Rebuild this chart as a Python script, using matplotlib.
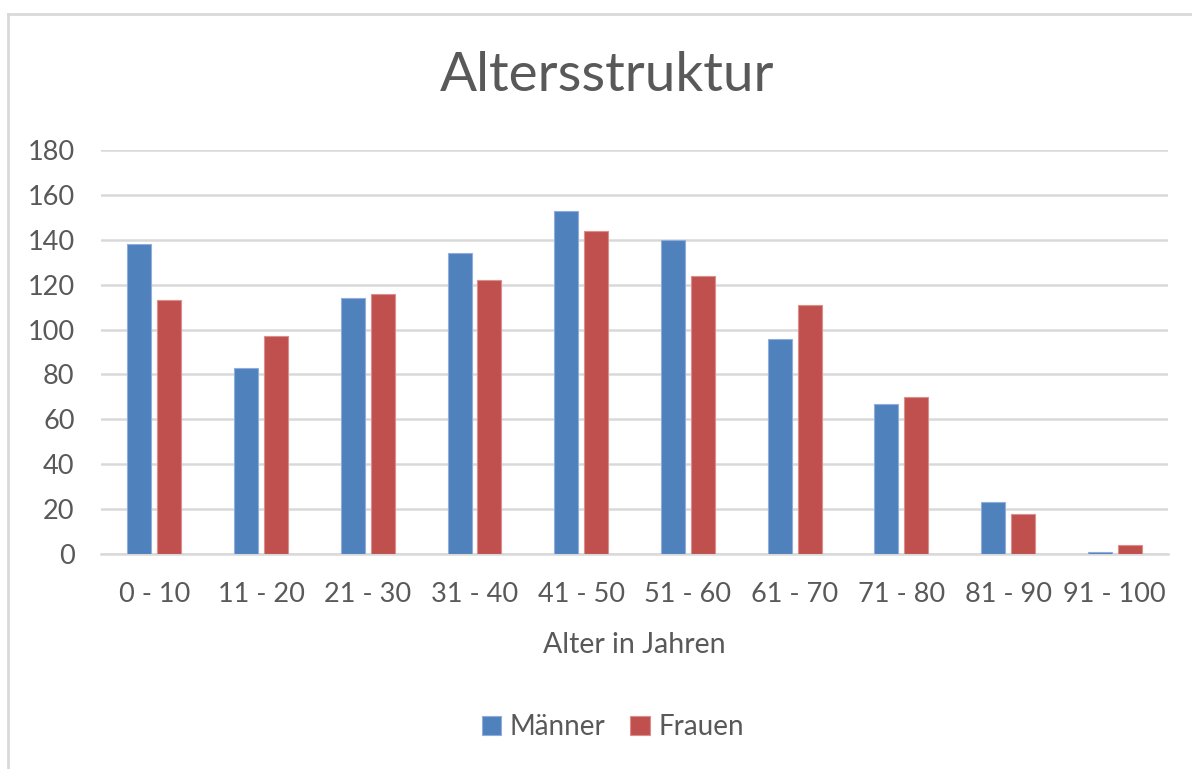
"""Altersstruktur bar chart."""

import matplotlib
matplotlib.use("Agg")
import matplotlib.pyplot as plt
from matplotlib.lines import Line2D
import numpy as np

categories = ["0 - 10", "11 - 20", "21 - 30", "31 - 40", "41 - 50",
              "51 - 60", "61 - 70", "71 - 80", "81 - 90", "91 - 100"]
maenner = [138, 83, 114, 134, 153, 140, 96, 67, 23, 1]
frauen = [113, 97, 116, 122, 144, 124, 111, 70, 18, 4]
y_ticks = [0, 20, 40, 60, 80, 100, 120, 140, 160, 180]

BLUE = "#4F81BD"
RED = "#C0504D"
TEXT = "#595959"
GRID = "#D9D9D9"

plt.rcParams["font.family"] = ["Lato", "DejaVu Sans"]

fig = plt.figure(figsize=(11.92, 7.69), dpi=100)
ax = fig.add_axes([0.0847, 0.2796, 0.8953, 0.5254])

x = np.arange(len(categories))
width = 0.225
ax.bar(x - 0.14, maenner, width, color=BLUE, edgecolor="#8FAEDB",
       linewidth=0.8, label="Männer", zorder=3)
ax.bar(x + 0.14, frauen, width, color=RED, edgecolor="#DC8E8C",
       linewidth=0.8, label="Frauen", zorder=3)

ax.set_xlim(-0.5, len(categories) - 0.5)
ax.set_ylim(0, 180)
ax.set_yticks(y_ticks)
ax.set_xticks(x)
ax.set_xticklabels(categories)
ax.tick_params(axis="both", length=0, labelsize=19.5, colors=TEXT)
ax.tick_params(axis="y", pad=19)
ax.tick_params(axis="x", pad=20)
ax.yaxis.grid(True, color=GRID, linewidth=1.8, zorder=0)
for side in ["top", "right", "left"]:
    ax.spines[side].set_visible(False)
ax.spines["bottom"].set_color(GRID)
ax.spines["bottom"].set_linewidth(1.8)

ax.set_xlabel("Alter in Jahren", fontsize=20.5, color=TEXT, labelpad=18)
fig.text(0.5095, 0.902, "Altersstruktur", fontsize=39.5, color=TEXT,
         ha="center", va="center")

fig.legend(loc="center", bbox_to_anchor=(0.514, 0.054), ncol=2,
           frameon=False, fontsize=20, labelcolor=TEXT, handlelength=0.7,
           handleheight=0.7, handletextpad=0.3, columnspacing=0.9)

# chart frame (only top and left edges visible in the crop)
fig.add_artist(Line2D([8 / 1192, 1.0], [1 - 14 / 769, 1 - 14 / 769],
                      color=GRID, linewidth=2.0, transform=fig.transFigure))
fig.add_artist(Line2D([8 / 1192, 8 / 1192], [0.0, 1 - 14 / 769],
                      color=GRID, linewidth=2.0, transform=fig.transFigure))

fig.savefig("out.png", dpi=100)
